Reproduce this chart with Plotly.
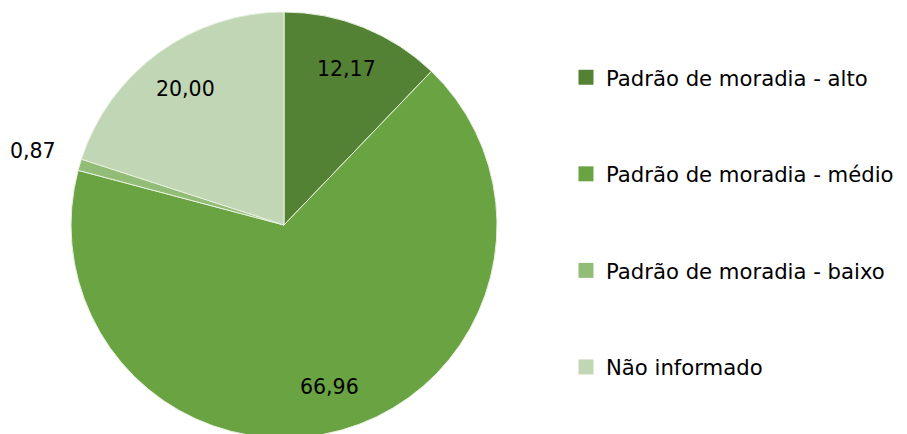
import math
import plotly.graph_objects as go

labels = ["Padrão de moradia - alto", "Padrão de moradia - médio",
          "Padrão de moradia - baixo", "Não informado"]
values = [12.17, 66.96, 0.87, 20.00]
value_text = ["12,17", "66,96", "0,87", "20,00"]
colors = ["#548235", "#6aa342", "#92bd77", "#c0d6b4"]
label_outside = [False, False, True, False]

W, H = 907, 434
cx, cy, r = 276, 217, 213
FONT = "DejaVu Sans"

fig = go.Figure()
fig.add_trace(go.Pie(
    labels=labels, values=values, sort=False, direction="clockwise", rotation=0,
    marker=dict(colors=colors, line=dict(color="#e8f0e0", width=1)),
    textinfo="none", showlegend=False, hoverinfo="label+value",
    domain=dict(x=[(cx - r) / W, (cx + r) / W], y=[(H - cy - r) / H, (H - cy + r) / H]),
))

# data labels placed at the angular middle of each slice
total = sum(values)
cum = 0.0
for v, t, out in zip(values, value_text, label_outside):
    mid = (cum + v / 2) / total * 2 * math.pi
    cum += v
    f = 1.23 if out else 0.79
    px = cx + f * r * math.sin(mid)
    py = cy - f * r * math.cos(mid)
    fig.add_annotation(x=px / W, y=1 - py / H, xref="paper", yref="paper",
                       xanchor="center", yanchor="middle",
                       text=t, showarrow=False,
                       font=dict(family=FONT, size=20.5, color="black"))

for i, (lab, col) in enumerate(zip(labels, colors)):
    fig.add_trace(go.Scatter(
        x=[None], y=[None], mode="markers", name=lab, legendgroup=f"g{i}",
        marker=dict(symbol="square", size=15, color=col),
    ))

fig.update_layout(
    width=W, height=H, margin=dict(l=0, r=0, t=0, b=0),
    paper_bgcolor="white", plot_bgcolor="white",
    xaxis=dict(visible=False), yaxis=dict(visible=False),
    legend=dict(x=0.6152, y=0.5058, xanchor="left", yanchor="middle",
                tracegroupgap=66, traceorder="grouped",
                font=dict(family=FONT, size=21.2, color="black"),
                itemwidth=30),
)
fig.write_html("out.html")
